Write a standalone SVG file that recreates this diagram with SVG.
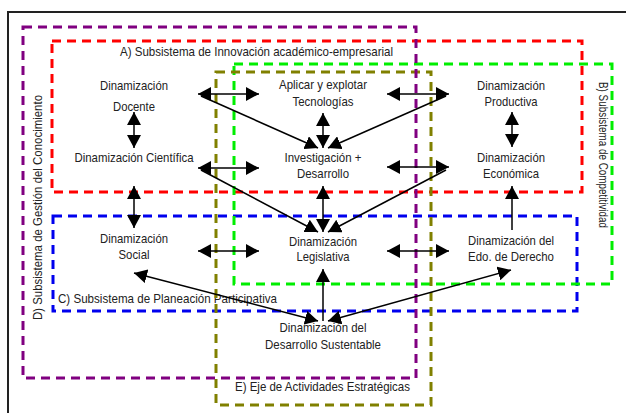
<svg xmlns="http://www.w3.org/2000/svg" width="626" height="413" viewBox="0 0 626 413">
<style>
text{font-family:"Liberation Sans",Arial,sans-serif;fill:#222;}
.n{font-size:13.5px;text-anchor:middle;}
.lbl{font-size:13.5px;}
.box{fill:none;stroke-width:3;stroke-dasharray:9 6;}
.c{stroke:#000;stroke-width:1.5;fill:none;}
.e{marker-end:url(#ah);}
.b{marker-start:url(#ah);marker-end:url(#ah);}
</style>
<defs>
<marker id="ah" viewBox="0 0 13 14" refX="13" refY="7" markerWidth="13" markerHeight="14" markerUnits="userSpaceOnUse" orient="auto-start-reverse">
<path d="M0,0 L13,7 L0,14 z" fill="#000"/>
</marker>
</defs>
<rect width="626" height="413" fill="#fff"/>
<path d="M8,413 V12 H626" fill="none" stroke="#222" stroke-width="2"/>

<g id="subsystems">
<g id="sub-A">
<rect class="box" x="52" y="41" width="530" height="151" stroke="#ff0000"/>
<text class="lbl" x="120" y="56" textLength="273" lengthAdjust="spacingAndGlyphs">A) Subsistema de Innovación académico-empresarial</text>
</g>
<g id="sub-C">
<rect class="box" x="53" y="216" width="524" height="95" stroke="#0000ee"/>
<text class="lbl" x="58" y="303" textLength="219" lengthAdjust="spacingAndGlyphs">C) Subsistema de Planeación Participativa</text>
</g>
<g id="sub-B">
<rect class="box" x="234" y="64" width="378" height="220" stroke="#00ee00"/>
<text class="lbl" transform="translate(599,82) rotate(90)" x="0" y="0" font-size="12.5" textLength="146" lengthAdjust="spacingAndGlyphs">B) Subsistema de Competitividad</text>
</g>
<g id="sub-E">
<rect class="box" x="216" y="72" width="215" height="333" stroke="#808000"/>
<text class="lbl" x="235" y="391" textLength="175" lengthAdjust="spacingAndGlyphs">E) Eje de Actividades Estratégicas</text>
</g>
<g id="sub-D">
<rect class="box" x="23" y="27" width="393" height="351" stroke="#800080"/>
<text class="lbl" transform="translate(42,320) rotate(-90)" x="0" y="0" textLength="225" lengthAdjust="spacingAndGlyphs">D) Subsistema de Gestión del Conocimiento</text>
</g>
</g>

<g id="connectors">
<line class="c b" x1="198" y1="94" x2="259" y2="94"/>
<line class="c b" x1="387" y1="94" x2="449" y2="94"/>
<line class="c b" x1="198" y1="168" x2="259" y2="168"/>
<line class="c b" x1="387" y1="167" x2="449" y2="167"/>
<line class="c b" x1="198" y1="251" x2="259" y2="251"/>
<line class="c b" x1="387" y1="251" x2="449" y2="251"/>
<line class="c b" x1="134" y1="112" x2="134" y2="148"/>
<line class="c b" x1="512" y1="112" x2="512" y2="147"/>
<line class="c b" x1="134" y1="186" x2="134" y2="228"/>
<line class="c b" x1="323" y1="113" x2="323" y2="148"/>
<line class="c b" x1="323" y1="186" x2="323" y2="232"/>
<line class="c e" x1="323" y1="321" x2="323" y2="269"/>
<line class="c e" x1="512" y1="230" x2="512" y2="186"/>
<line class="c e" x1="201" y1="96" x2="318" y2="148"/>
<line class="c e" x1="446" y1="96" x2="328" y2="148"/>
<line class="c e" x1="201" y1="170" x2="318" y2="232"/>
<line class="c e" x1="446" y1="170" x2="328" y2="232"/>
<line class="c b" x1="134" y1="273" x2="318" y2="321"/>
<line class="c b" x1="511" y1="270" x2="328" y2="321"/>
</g>

<g id="docente"><text class="n" x="134" y="90" textLength="68" lengthAdjust="spacingAndGlyphs">Dinamización</text><text class="n" x="134" y="111" textLength="42" lengthAdjust="spacingAndGlyphs">Docente</text></g>
<g id="cientifica"><text class="n" x="134" y="162" textLength="119" lengthAdjust="spacingAndGlyphs">Dinamización Científica</text></g>
<g id="social"><text class="n" x="134" y="243" textLength="68" lengthAdjust="spacingAndGlyphs">Dinamización</text><text class="n" x="134" y="259" textLength="31" lengthAdjust="spacingAndGlyphs">Social</text></g>
<g id="tecnologias"><text class="n" x="323" y="89" textLength="88" lengthAdjust="spacingAndGlyphs">Aplicar y explotar</text><text class="n" x="323" y="106" textLength="61" lengthAdjust="spacingAndGlyphs">Tecnologías</text></g>
<g id="investigacion"><text class="n" x="323" y="162" textLength="77" lengthAdjust="spacingAndGlyphs">Investigación +</text><text class="n" x="323" y="178" textLength="52" lengthAdjust="spacingAndGlyphs">Desarrollo</text></g>
<g id="legislativa"><text class="n" x="323" y="246" textLength="68" lengthAdjust="spacingAndGlyphs">Dinamización</text><text class="n" x="323" y="261" textLength="53" lengthAdjust="spacingAndGlyphs">Legislativa</text></g>
<g id="sustentable"><text class="n" x="323" y="332" textLength="87" lengthAdjust="spacingAndGlyphs">Dinamización del</text><text class="n" x="323" y="349" textLength="116" lengthAdjust="spacingAndGlyphs">Desarrollo Sustentable</text></g>
<g id="productiva"><text class="n" x="511" y="90" textLength="68" lengthAdjust="spacingAndGlyphs">Dinamización</text><text class="n" x="511" y="106" textLength="53" lengthAdjust="spacingAndGlyphs">Productiva</text></g>
<g id="economica"><text class="n" x="511" y="162" textLength="68" lengthAdjust="spacingAndGlyphs">Dinamización</text><text class="n" x="511" y="178" textLength="56" lengthAdjust="spacingAndGlyphs">Económica</text></g>
<g id="derecho"><text class="n" x="511" y="245" textLength="86" lengthAdjust="spacingAndGlyphs">Dinamización del</text><text class="n" x="511" y="261" textLength="86" lengthAdjust="spacingAndGlyphs">Edo. de Derecho</text></g>
</svg>
